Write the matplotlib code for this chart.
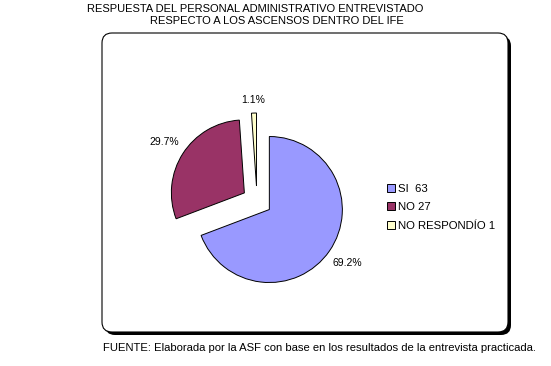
import matplotlib
matplotlib.use("Agg")
import matplotlib.pyplot as plt
from matplotlib.patches import FancyBboxPatch

plt.rcParams['font.family'] = ['Liberation Sans', 'DejaVu Sans']

# data
labels = ["SI  63", "NO 27", "NO RESPONDÍO 1"]
counts = [63, 27, 1]
colors = ["#9999FF", "#993366", "#FFFFCC"]

W, H = 551, 366
fig = plt.figure(figsize=(W / 100, H / 100), dpi=100)
ax = fig.add_axes([0, 0, 1, 1])

# rounded frame with shadow (pixel coords, y up)
shadow = FancyBboxPatch((105, 31), 406, 299, boxstyle="round,pad=0,rounding_size=10",
                        fc="black", ec="black", lw=0, zorder=0)
frame = FancyBboxPatch((102, 34), 406, 299, boxstyle="round,pad=0,rounding_size=10",
                       fc="white", ec="black", lw=0.8, zorder=1)
ax.add_patch(shadow)
ax.add_patch(frame)

# explode is in data units here (pixels)
wedges, texts, autotexts = ax.pie(
    counts, colors=colors, startangle=90, counterclock=False,
    center=(257, 165), radius=73, explode=[15] * 3,
    autopct="%1.1f%%", pctdistance=1.3, frame=True,
    wedgeprops=dict(edgecolor="black", linewidth=0.7, zorder=2),
    textprops=dict(fontsize=7.5, zorder=3))

# small slice label sits a bit closer
x, y = autotexts[2].get_position()
autotexts[2].set_position((257 + (x - 257) * 0.92, 165 + (y - 165) * 0.92))

leg = ax.legend(wedges, labels, loc="upper left", bbox_to_anchor=(382 / W, 1 - 179 / H),
                frameon=False, fontsize=8.2, handlelength=0.7, handleheight=0.7,
                handletextpad=0.3, labelspacing=0.75, borderaxespad=0)

ax.text(255, H - 9, "RESPUESTA DEL PERSONAL ADMINISTRATIVO ENTREVISTADO",
        ha="center", va="center", fontsize=8)
ax.text(277, H - 21, "RESPECTO A LOS ASCENSOS DENTRO DEL IFE",
        ha="center", va="center", fontsize=8)
ax.text(103, H - 348, "FUENTE: Elaborada por la ASF con base en los resultados de la entrevista practicada.",
        ha="left", va="center", fontsize=8.1)

ax.set_xlim(0, W)
ax.set_ylim(0, H)
ax.set_aspect("equal")
ax.axis("off")

fig.savefig("out.png", dpi=100)
